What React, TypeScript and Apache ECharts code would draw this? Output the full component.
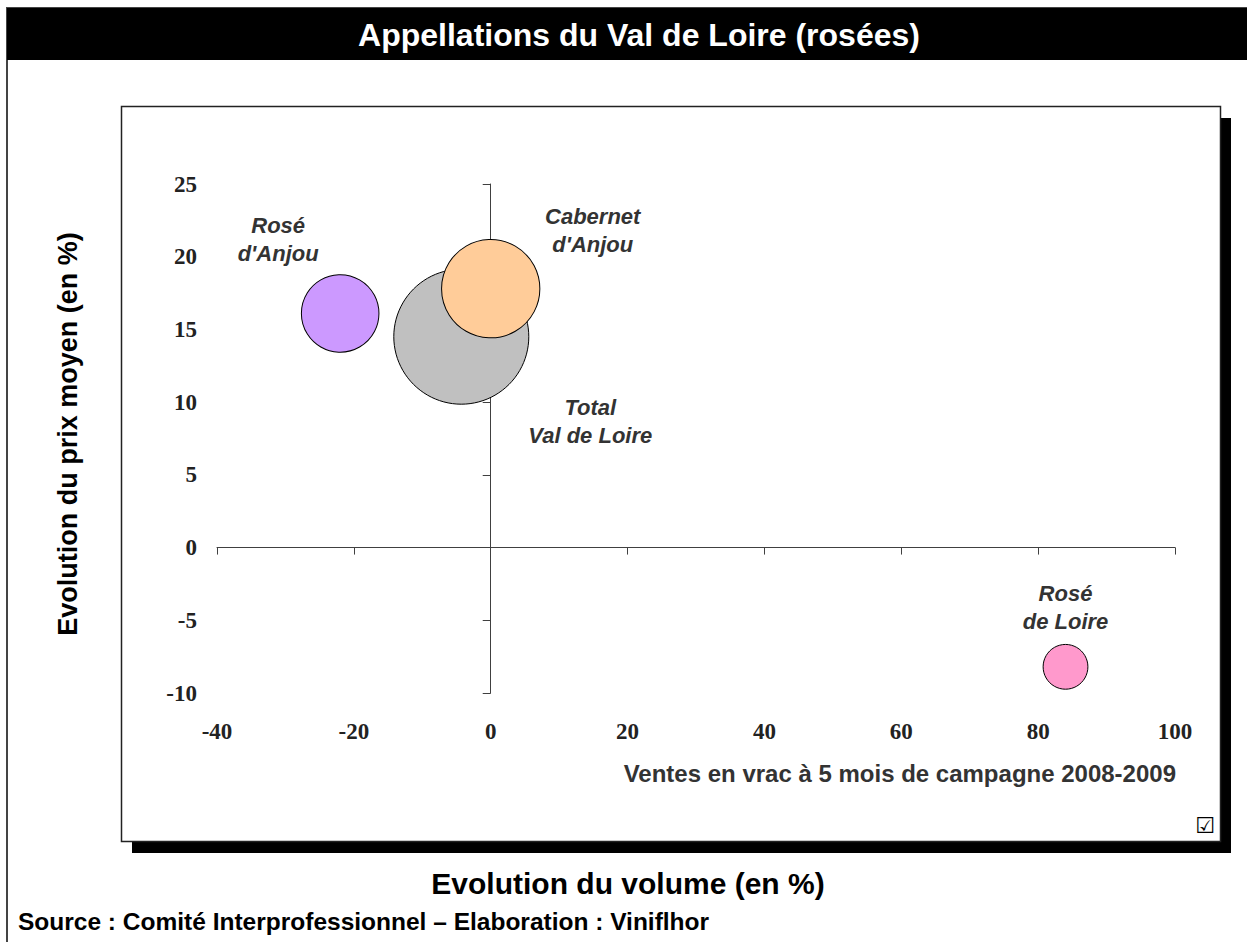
import React, { useEffect, useRef } from "react";
import * as echarts from "echarts";

// ---- data ----
const appellations = ["Rosé d'Anjou", "Total Val de Loire", "Cabernet d'Anjou", "Rosé de Loire"];
const labelLines = ["Rosé\nd'Anjou", "Total\nVal de Loire", "Cabernet\nd'Anjou", "Rosé\nde Loire"];
const volumeChange = [-22, -4.3, 0, 84]; // x : évolution du volume (%)
const priceChange = [16.1, 14.5, 17.8, -8.2]; // y : évolution du prix moyen (%)
const bubbleVolume = [33, 100, 53, 11]; // relative bubble size (volume)
const bubbleColors = ["#CC99FF", "#C0C0C0", "#FFCC99", "#FF99CC"];
const labelOffsets = [
  [-62, -74],
  [129, 85],
  [102, -58],
  [0, -59],
];
const xRange = { min: -40, max: 100, interval: 20 };
const yRange = { min: -10, max: 25, interval: 5 };

const SANS = '"Liberation Sans", Arial, sans-serif';
const SERIF = '"Liberation Serif", "Times New Roman", serif';

export default function App() {
  const ref = useRef<HTMLDivElement>(null);

  useEffect(() => {
    if (!ref.current) return;
    const chart = echarts.init(ref.current, undefined, { renderer: "svg" });
    const maxVol = Math.max(...bubbleVolume);
    const maxDiameter = 135;
    const axisColor = "#404040";
    const tickLabel = {
      fontFamily: SERIF,
      fontWeight: "bold" as const,
      fontSize: 23,
      color: "#222",
    };

    const option: any = {
      animation: false,
      backgroundColor: "#fff",
      grid: { left: 217, right: 72, top: 184, bottom: 249, containLabel: false },
      xAxis: [
        {
          type: "value",
          ...xRange,
          position: "bottom",
          axisLine: { show: false, onZero: false },
          axisTick: { show: false },
          splitLine: { show: false },
          axisLabel: { ...tickLabel, margin: 27 },
        },
        {
          type: "value",
          ...xRange,
          position: "bottom",
          axisLine: { show: true, onZero: true, lineStyle: { color: axisColor, width: 1 } },
          axisTick: { show: true, length: 7, lineStyle: { color: axisColor, width: 1 } },
          axisLabel: { show: false },
          splitLine: { show: false },
        },
      ],
      yAxis: [
        {
          type: "value",
          ...yRange,
          position: "left",
          axisLine: { show: false, onZero: false },
          axisTick: { show: false },
          splitLine: { show: false },
          axisLabel: { ...tickLabel, margin: 20 },
        },
        {
          type: "value",
          ...yRange,
          position: "left",
          axisLine: { show: true, onZero: true, lineStyle: { color: axisColor, width: 1 } },
          axisTick: { show: true, length: 8, lineStyle: { color: axisColor, width: 1 } },
          axisLabel: { show: false },
          splitLine: { show: false },
        },
      ],
      series: [
        {
          type: "scatter",
          xAxisIndex: 0,
          yAxisIndex: 0,
          z: 3,
          emphasis: { disabled: true },
          label: {
            show: true,
            position: "inside",
            formatter: (p: any) => labelLines[p.dataIndex],
            fontFamily: SANS,
            fontWeight: "bold",
            fontStyle: "italic",
            fontSize: 22,
            lineHeight: 28,
            color: "#333",
            align: "center",
          },
          data: appellations.map((name, i) => ({
            name,
            value: [volumeChange[i], priceChange[i], bubbleVolume[i]],
            symbolSize: maxDiameter * Math.sqrt(bubbleVolume[i] / maxVol),
            itemStyle: {
              color: bubbleColors[i],
              borderColor: "#000",
              borderWidth: 1,
              opacity: 1,
            },
            label: { offset: labelOffsets[i] },
          })),
        },
      ],
      graphic: [
        {
          type: "rect",
          z: -20,
          shape: { x: 7, y: 8, width: 1262, height: 962 },
          style: { fill: "#fff", stroke: "#444", lineWidth: 2 },
        },
        {
          type: "rect",
          z: -19,
          shape: { x: 7, y: 8, width: 1262, height: 52 },
          style: { fill: "#000" },
        },
        {
          type: "text",
          z: 10,
          x: 639,
          y: 35,
          style: {
            text: "Appellations du Val de Loire (rosées)",
            fill: "#fff",
            font: `bold 32px ${SANS}`,
            textAlign: "center",
            textVerticalAlign: "middle",
          },
        },
        {
          type: "rect",
          z: -18,
          shape: { x: 132, y: 118, width: 1099, height: 735 },
          style: { fill: "#000" },
        },
        {
          type: "rect",
          z: -17,
          shape: { x: 121.5, y: 106.5, width: 1099, height: 735 },
          style: { fill: "#fff", stroke: "#222", lineWidth: 1.5 },
        },
        {
          type: "text",
          z: 10,
          x: 68,
          y: 434,
          rotation: Math.PI / 2,
          style: {
            text: "Evolution du prix moyen (en %)",
            fill: "#000",
            font: `bold 27px ${SANS}`,
            textAlign: "center",
            textVerticalAlign: "middle",
          },
        },
        {
          type: "text",
          z: 10,
          x: 1176,
          y: 773,
          style: {
            text: "Ventes en vrac à 5 mois de campagne 2008-2009",
            fill: "#333",
            font: `bold 24px ${SANS}`,
            textAlign: "right",
            textVerticalAlign: "middle",
          },
        },
        {
          type: "text",
          z: 10,
          x: 1205,
          y: 825,
          style: {
            text: "☑",
            fill: "#000",
            font: `bold 22px "DejaVu Sans", sans-serif`,
            textAlign: "center",
            textVerticalAlign: "middle",
          },
        },
        {
          type: "text",
          z: 10,
          x: 628,
          y: 883,
          style: {
            text: "Evolution du volume (en %)",
            fill: "#000",
            font: `bold 30px ${SANS}`,
            textAlign: "center",
            textVerticalAlign: "middle",
          },
        },
        {
          type: "text",
          z: 10,
          x: 18,
          y: 921,
          style: {
            text: "Source : Comité Interprofessionnel – Elaboration : Viniflhor",
            fill: "#000",
            font: `bold 24.5px ${SANS}`,
            textAlign: "left",
            textVerticalAlign: "middle",
          },
        },
      ],
    };

    chart.setOption(option);
    return () => chart.dispose();
  }, []);

  return (
    <div
      ref={ref}
      style={{ position: "fixed", left: 0, top: 0, width: 1247, height: 942, background: "#fff" }}
    />
  );
}
